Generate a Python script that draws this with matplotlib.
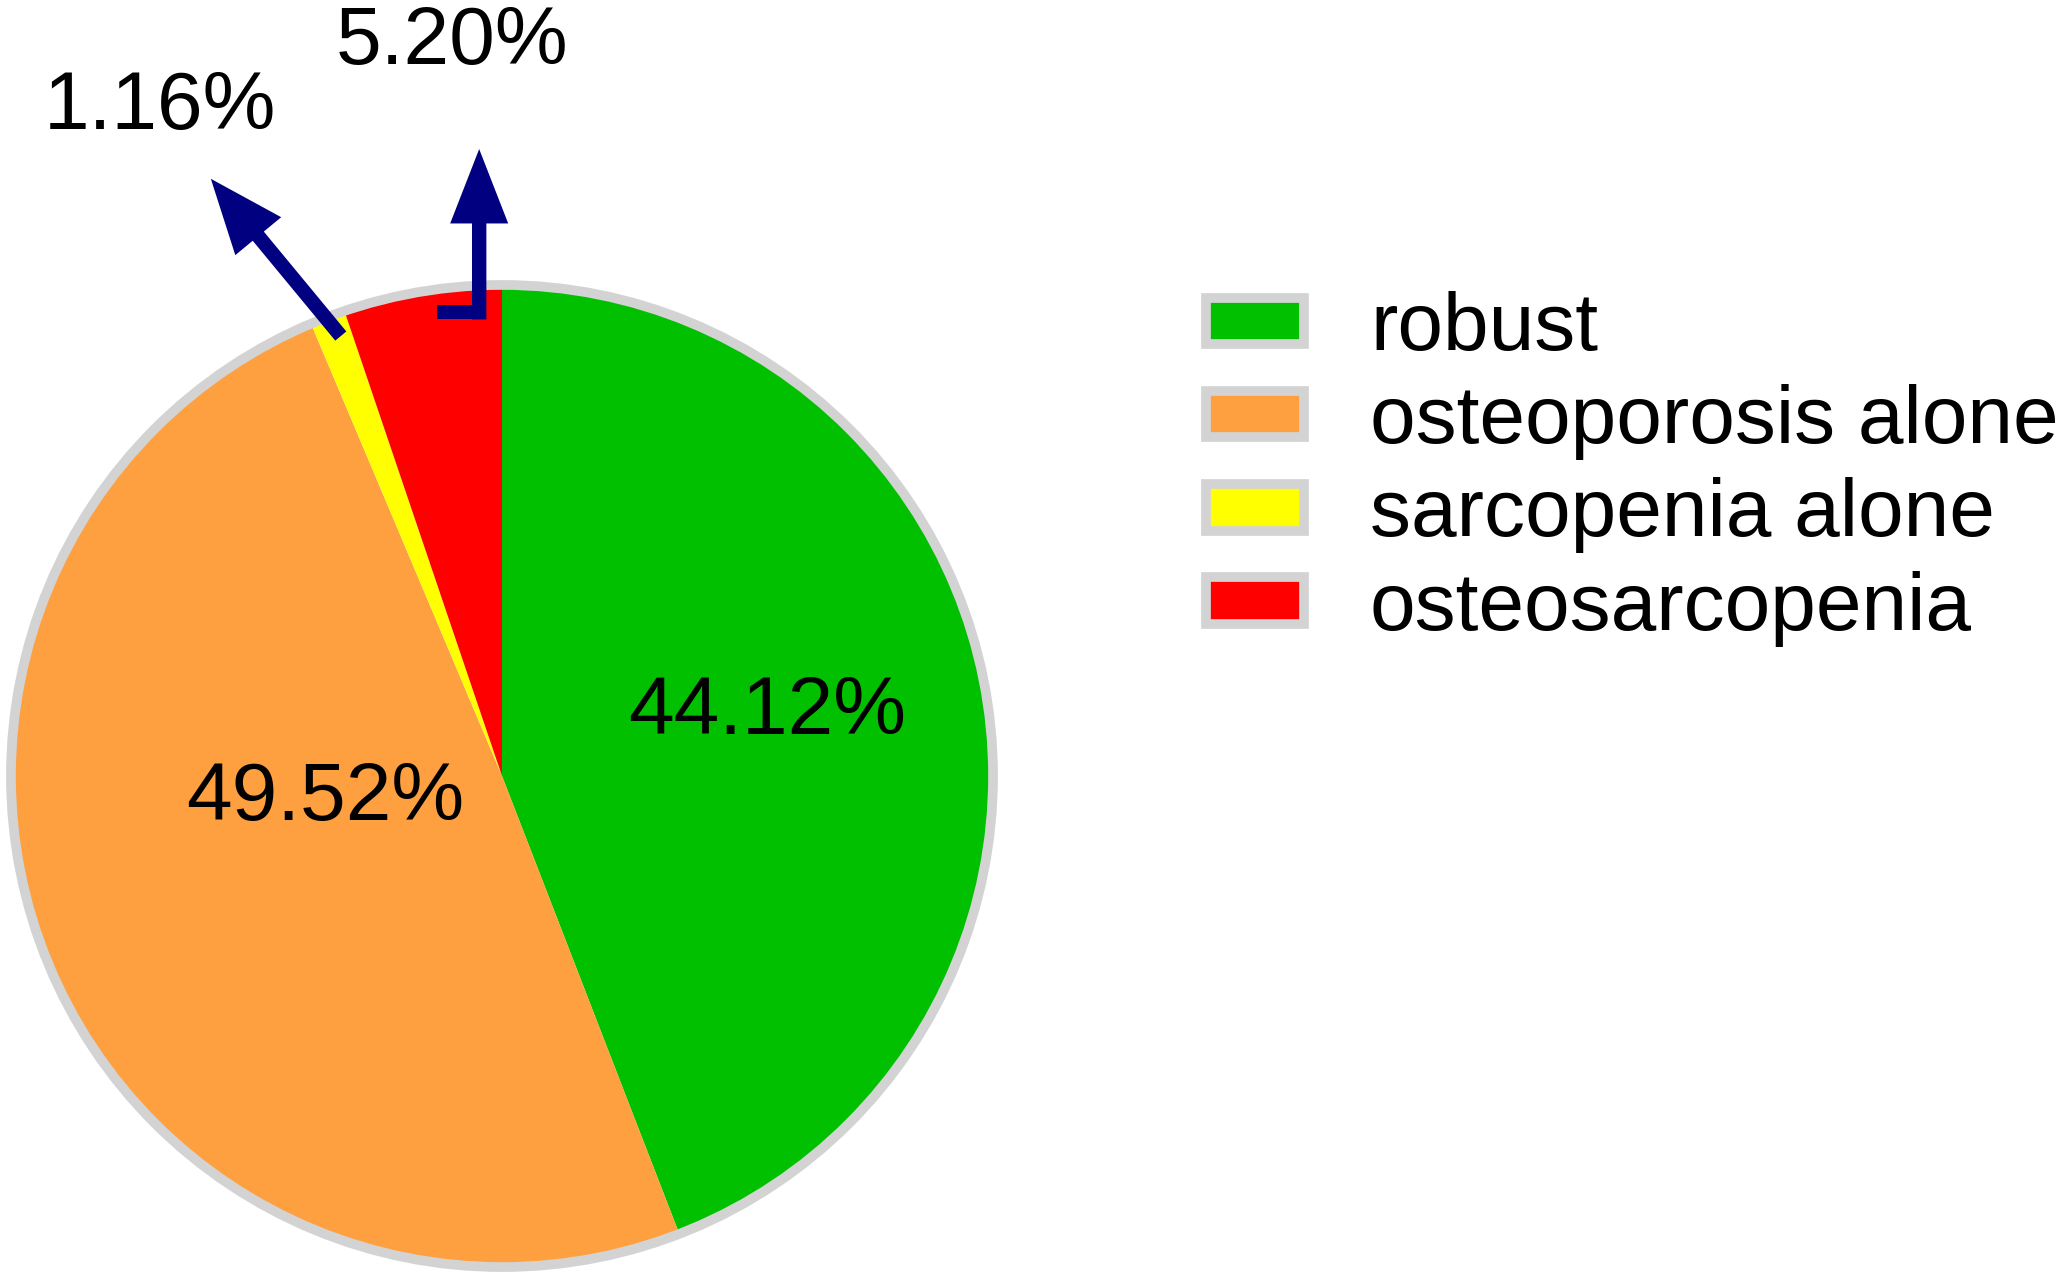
import matplotlib
matplotlib.use("Agg")
import matplotlib.pyplot as plt
import matplotlib.patches as mpatches

categories = ["robust", "osteoporosis alone", "sarcopenia alone", "osteosarcopenia"]
values = [44.12, 49.52, 1.16, 5.20]
colors = ["#00c000", "#fea040", "#ffff00", "#ff0000"]
edge_gray = "#d3d3d3"
arrow_color = "#000080"

plt.rcParams['font.family'] = ['Liberation Sans', 'DejaVu Sans']

W, H = 2056, 1277
fig = plt.figure(figsize=(W / 100, H / 100), dpi=100)

cx, cy, R = 502, 776, 496
ax = fig.add_axes([(cx - R) / W, (H - cy - R) / H, 2 * R / W, 2 * R / H])

wedges, _ = ax.pie(values, colors=colors, startangle=90, counterclock=False,
                   radius=0.99, wedgeprops=dict(linewidth=0))
ax.set_xlim(-1, 1)
ax.set_ylim(-1, 1)
ax.set_aspect('equal')
ax.axis('off')
for w in wedges:
    w.set_clip_on(False)
ring = mpatches.Circle((0, 0), 0.99, fill=False, edgecolor=edge_gray, linewidth=7, clip_on=False)
ax.add_patch(ring)

fs = 59
lbl = [f"{v:.2f}%" for v in values]
ax.text(0.534, 0.128, lbl[0], ha='center', va='center', fontsize=fs)
ax.text(-0.357, -0.047, lbl[1], ha='center', va='center', fontsize=fs)
ax.text(-0.69, 1.347, lbl[2], ha='center', va='center', fontsize=fs, clip_on=False)
ax.text(-0.10, 1.478, lbl[3], ha='center', va='center', fontsize=fs, clip_on=False)

# arrow for 1.16%
tx, ty = -0.325, 0.887
hx, hy = -0.587, 1.204
a1 = mpatches.FancyArrow(tx, ty, hx - tx, hy - ty, width=0.029, head_width=0.12,
                         head_length=0.15, length_includes_head=True,
                         color=arrow_color, linewidth=0, clip_on=False)
ax.add_patch(a1)

# bent arrow for 5.20%
sx = -0.046
ybar = 0.935
hw = 0.029
ax.add_patch(mpatches.Rectangle((-0.131, ybar - hw / 2), sx + hw / 2 + 0.131, hw,
                                color=arrow_color, linewidth=0, clip_on=False))
a2 = mpatches.FancyArrow(sx, ybar - hw / 2, 0, 1.264 - (ybar - hw / 2), width=hw,
                         head_width=0.117, head_length=0.15, length_includes_head=True,
                         color=arrow_color, linewidth=0, clip_on=False)
ax.add_patch(a2)

handles = [mpatches.Patch(facecolor=c, edgecolor=edge_gray, linewidth=7, label=l)
           for c, l in zip(colors, categories)]
fig.legend(handles=handles, loc='upper left', bbox_to_anchor=(1206 / W, 1 - 291 / H),
           frameon=False, fontsize=fs, handlelength=1.2, handleheight=0.5,
           handletextpad=0.8, labelspacing=0.21, borderpad=0, borderaxespad=0)

fig.savefig("out.png", dpi=100)
